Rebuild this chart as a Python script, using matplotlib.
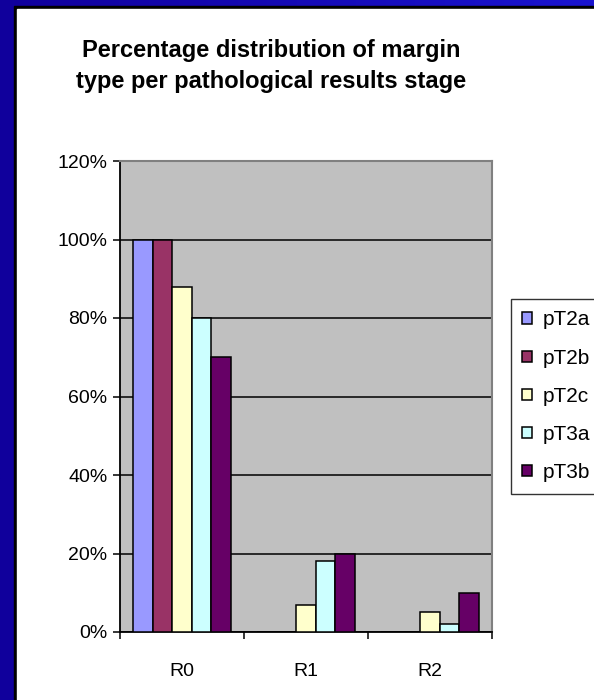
import numpy as np
import matplotlib
matplotlib.use("Agg")
import matplotlib.pyplot as plt
from matplotlib.patches import Rectangle

plt.rcParams['font.family'] = ['Liberation Sans', 'DejaVu Sans']

# data
stages = ["R0", "R1", "R2"]
series = ["pT2a", "pT2b", "pT2c", "pT3a", "pT3b"]
pT2a = [100, 0, 0]
pT2b = [100, 0, 0]
pT2c = [88, 7, 5]
pT3a = [80, 18, 2]
pT3b = [70, 20, 10]
colors = ["#9999FF", "#993366", "#FFFFCC", "#CCFFFF", "#660066"]
yticks = [0, 20, 40, 60, 80, 100, 120]

fig = plt.figure(figsize=(5.94, 7.0), dpi=100)

# blue slide background with white panel
bg = fig.add_axes([0, 0, 1, 1], zorder=-10)
grad = np.linspace(0, 1, 256)
img = np.outer(np.ones(256), grad)
bg.imshow(img, aspect='auto', extent=[0, 1, 0, 1],
          cmap=matplotlib.colors.LinearSegmentedColormap.from_list("b", ["#10009c", "#1a14d0"]))
bg.add_patch(Rectangle((14/594, 0), 1, 1 - 6/700, color="black", transform=bg.transAxes))
bg.add_patch(Rectangle((17/594, 0), 1, 1 - 9/700, color="white", transform=bg.transAxes))
bg.set_xlim(0, 1)
bg.set_ylim(0, 1)
bg.axis('off')

ax = fig.add_axes([120/594, 1 - 632/700, 371.7/594, 471/700])
ax.set_facecolor("#C0C0C0")

x = np.arange(len(stages))
w = 0.158
data = [pT2a, pT2b, pT2c, pT3a, pT3b]
for i, (name, vals) in enumerate(zip(series, data)):
    ax.bar(x + (i - 2) * w, vals, w, color=colors[i], edgecolor="black",
           linewidth=1.1, label=name, zorder=3)

ax.set_ylim(0, 120)
ax.set_xlim(-0.5, 2.5)
ax.set_yticks(yticks)
ax.set_yticklabels([str(v) + "%" for v in yticks], fontsize=14)
ax.yaxis.grid(True, color="black", linewidth=1.1, zorder=1)
ax.set_axisbelow(True)

ax.set_xticks([-0.5, 0.5, 1.5, 2.5])
ax.set_xticklabels([])
ax.set_xticks(x, minor=True)
ax.set_xticklabels(stages, minor=True, fontsize=14)
ax.tick_params(axis='x', which='major', length=5, width=1.1, direction='out')
ax.tick_params(axis='x', which='minor', length=0, pad=22)
ax.tick_params(axis='y', length=5, width=1.1, direction='out', pad=4)

ax.spines['left'].set_linewidth(1.3)
ax.spines['bottom'].set_linewidth(1.3)
ax.spines['top'].set_color("#808080")
ax.spines['right'].set_color("#808080")
ax.spines['top'].set_linewidth(1.5)
ax.spines['right'].set_linewidth(1.5)

leg = fig.legend(loc='upper left', bbox_to_anchor=(511/594, 1 - 299/700),
                 fontsize=15, frameon=True, fancybox=False, edgecolor="black",
                 handlelength=0.45, handleheight=0.45, handletextpad=0.5,
                 labelspacing=0.92, borderpad=0.55, borderaxespad=0)
leg.get_frame().set_linewidth(1.0)

fig.text(271/594, 1 - 66/700,
         "Percentage distribution of margin\ntype per pathological results stage",
         ha='center', va='center', fontsize=17, fontweight='bold', linespacing=1.4)

fig.savefig("out.png", dpi=100)
